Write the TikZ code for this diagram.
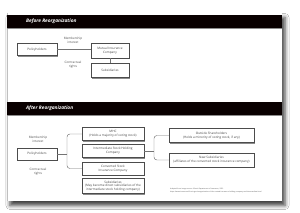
\documentclass[tikz,border=0pt]{standalone}
\usepackage{fontspec}
\setmainfont{Open Sans}
\usetikzlibrary{shadows,shadows.blur}
\begin{document}
\begin{tikzpicture}[x=1pt,y=-1pt,
  box/.style={draw=black!70, line width=0.45pt, fill=white, inner sep=0.3pt, align=center,
    font=\fontsize{3.1}{3.8}\selectfont, text=black!75,
    drop shadow={shadow xshift=1.3pt, shadow yshift=-1.3pt, fill=black!50, opacity=0.9}},
  lbl/.style={align=center, font=\fontsize{3.1}{3.8}\selectfont, text=black!70, inner sep=0pt},
  conn/.style={draw=black!55, line width=0.45pt},
  band/.style={fill=black!88!red!30!black, draw=none},
  ttl/.style={anchor=west, text=white, font=\fontsize{4.8}{5.4}\selectfont\bfseries\itshape, inner sep=0pt}
]
\useasboundingbox (0,0) rectangle (300,213);
\fill[white] (0,0) rectangle (300,213);
% sheet with shadow
\fill[white, blur shadow={shadow xshift=3pt, shadow yshift=-4.5pt, shadow blur radius=4pt, shadow opacity=75}] (7,13) rectangle (282,201);
\draw[black!25, line width=0.6pt] (7.3,13) -- (7.3,201);
% bands
\fill[band] (7,15) rectangle (282,28);
\fill[black!45] (7,28) rectangle (282,28.6);
\fill[band] (7,102) rectangle (282,115);
\fill[black!45] (7,115) rectangle (282,115.6);
\node[ttl] (t1) at (26,21.5) {Before Reorganization};
\node[ttl] (t2) at (26,108.5) {After Reorganization};

% Before
\node[box, minimum width=40pt, minimum height=12pt] (p1) at (37,49.5) {Policyholders};
\node[box, minimum width=38pt, minimum height=15pt] (mic) at (110,50.5) {Mutual Insurance\\Company};
\node[box, minimum width=38pt, minimum height=14pt] (s1) at (110,70.5) {Subsidiaries};
\node[lbl] (l1) at (73,40) {Membership\\interest};
\node[lbl] (l2) at (73,65) {Contractual\\rights};
\draw[conn] (p1.east) -- (p1.east -| mic.west);
\draw[conn] (mic.south) -- (s1.north);

% After
\node[box, minimum width=40pt, minimum height=12pt] (p2) at (37,154) {Policyholders};
\node[lbl] (l3) at (38,139) {Membership\\interest};
\node[lbl] (l4) at (38,172) {Contractual\\rights};
\node[box, minimum width=62pt, minimum height=13pt] (mhc) at (113,134) {MHC\\(Holds a majority of voting stock)};
\node[box, minimum width=62pt, minimum height=13pt] (ish) at (113,151) {Intermediate Stock Holding\\Company};
\node[box, minimum width=62pt, minimum height=13pt] (csi) at (113,168.5) {Converted Stock\\Insurance Company};
\node[box, minimum width=62pt, minimum height=15pt] (s2) at (113,186) {Subsidiaries\\(May become direct subsidiaries of the\\intermediate stock holding company)};
\node[box, minimum width=85pt, minimum height=14pt] (os) at (211.5,135.5) {Outside Shareholders\\(Holds a minority of voting stock, if any)};
\node[box, minimum width=85pt, minimum height=14pt] (ns) at (211.5,160) {New Subsidiaries\\(affiliates of the converted stock insurance company)};
\coordinate (j1) at (67,154);
\coordinate (j2) at (154,151);
\draw[conn] (p2.east) -- (j1);
\draw[conn, rounded corners=3pt] (mhc.west) -| (j1) |- (csi.west);
\draw[conn] (ish.east) -- (j2);
\draw[conn, rounded corners=3pt] (os.west) -| (j2) |- (ns.west);

\node[anchor=north west, align=left, inner sep=0pt, text=black!70, font=\fontsize{1.7}{2.2}\selectfont] (fn) at (170,188.5) {Adapted from image source: Illinois Department of Insurance, 2022\\https://www.insurance.illinois.gov/reorganization-of-the-mutual-insurance-holding-company-and-intermediate.html};
\end{tikzpicture}
\end{document}
